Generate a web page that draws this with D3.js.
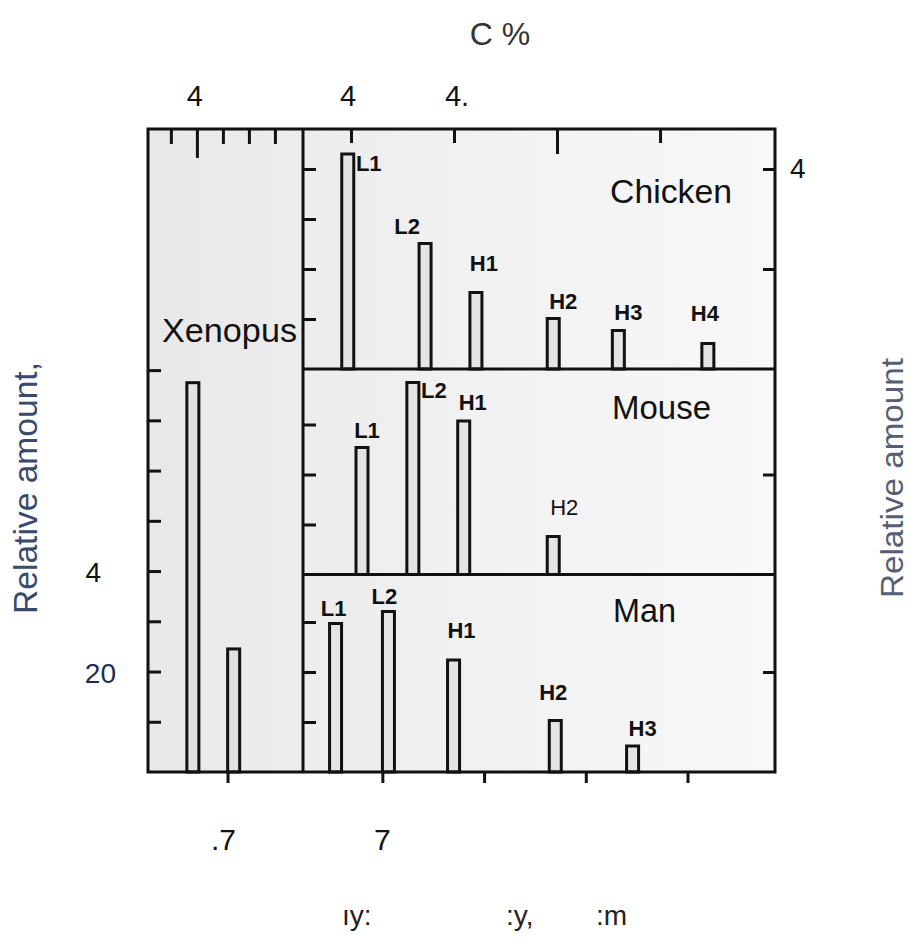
<!DOCTYPE html>
<html>
<head>
<meta charset="utf-8">
<script src="https://cdn.jsdelivr.net/npm/d3@7"></script>
<style>
body { margin: 0; background: #fff; }
text { font-family: "Liberation Sans", Arial, sans-serif; }
</style>
</head>
<body>
<script>
var w = 911;
var h = 941;

// values: buoyant density (g/cm3) and relative amount (%)
var xenopusDensity = [1.6983, 1.7003];
var xenopusAmount = [77.5, 24.5];

var chickenBands = ["L1", "L2", "H1", "H2", "H3", "H4"];
var chickenDensity = [1.6983, 1.7021, 1.7046, 1.7084, 1.7116, 1.7160];
var chickenAmount = [43, 25.1, 15.3, 10.1, 7.7, 5.1];

var mouseBands = ["L1", "L2", "H1", "H2"];
var mouseDensity = [1.6990, 1.7015, 1.7040, 1.7084];
var mouseAmount = [25.4, 38.4, 30.7, 7.6];

var manBands = ["L1", "L2", "H1", "H2", "H3"];
var manDensity = [1.6977, 1.7003, 1.7035, 1.7085, 1.7123];
var manAmount = [29.7, 32.1, 22.4, 10.3, 5.2];

// axes (labels are what survived of the scan)
var densityTicks = [1.700, 1.705, 1.710, 1.715];
var densityTickLabels = ["7", "", "", ""];
var xenDensityTicks = [1.700];
var xenDensityTickLabels = [".7"];
var gcTicksXen = [39, 40, 41, 42, 43];
var gcTickLabelsXen = ["", "4", "", "", ""];
var gcTicksRight = [40, 45, 50, 55];
var gcTickLabelsRight = ["4", "4.", "", ""];
var amountTicksXen = [10, 20, 30, 40, 50, 60, 70, 80];
var amountLabelValues = [40, 20];
var amountLabelTexts = ["4", "20"];

var pLeft = 148, pMid = 303, pRight = 775, pTop = 129, pBottom = 772;
var cut1 = 369, cut2 = 574.5;

var svg = d3.select("body").append("svg")
    .attr("width", w)
    .attr("height", h);

var defs = svg.append("defs");
var grad = defs.append("linearGradient").attr("id", "paper");
grad.append("stop").attr("offset", "0%").attr("stop-color", "#e8e8e8");
grad.append("stop").attr("offset", "45%").attr("stop-color", "#f0f0f0");
grad.append("stop").attr("offset", "100%").attr("stop-color", "#f8f8f8");

var xXen = d3.scaleLinear().domain([1.6961, 1.7037]).range([pLeft, pMid]);
var xRight = d3.scaleLinear().domain([1.6961, 1.7193]).range([pMid, pRight]);
var gcXen = d3.scaleLinear().domain([38.12, 44.08]).range([pLeft, pMid]);
var gcRight = d3.scaleLinear().domain([37.67, 60.58]).range([pMid, pRight]);
var yXen = d3.scaleLinear().domain([0, 128]).range([pBottom, pTop]);

function panelScale(y0, y1) {
    return d3.scaleLinear().domain([0, (y1 - y0) / 5]).range([y1, y0]);
}

// label nudges [dx from bar centre, dy from bar top]
var panels = [
    { name: "Chicken", bands: chickenBands, dens: chickenDensity, amt: chickenAmount,
      y: panelScale(pTop, cut1), ticks: [10, 20, 30, 40], rticks: [20, 40],
      nudge: [[21, 17], [-18, -10], [8, -22], [10, -10], [10, -11], [-3, -23]],
      bold: [1, 1, 1, 1, 1, 1], tx: 610, ty: 203, tl: 122 },
    { name: "Mouse", bands: mouseBands, dens: mouseDensity, amt: mouseAmount,
      y: panelScale(cut1, cut2), ticks: [10, 20, 30], rticks: [20],
      nudge: [[5, -10], [21, 15], [9, -11], [11, -22]],
      bold: [1, 1, 1, 0], tx: 612, ty: 419, tl: 99 },
    { name: "Man", bands: manBands, dens: manDensity, amt: manAmount,
      y: panelScale(cut2, pBottom), ticks: [10, 20, 30], rticks: [20],
      nudge: [[-2, -8], [-4, -8], [8, -22], [-2, -21], [10, -10]],
      bold: [1, 1, 1, 1, 1], tx: 613, ty: 622, tl: 63 }
];

svg.append("rect")
    .attr("x", pLeft).attr("y", pTop)
    .attr("width", pRight - pLeft).attr("height", pBottom - pTop)
    .attr("fill", "url(#paper)");

// Xenopus bars
svg.append("g").selectAll("rect")
    .data(xenopusDensity)
    .enter()
    .append("rect")
    .attr("x", function(d) { return xXen(d) - 6; })
    .attr("y", function(d, i) { return yXen(xenopusAmount[i]); })
    .attr("width", 12)
    .attr("height", function(d, i) { return pBottom - yXen(xenopusAmount[i]); })
    .attr("fill", "#e2e2e2")
    .attr("stroke", "#111")
    .attr("stroke-width", 3);

panels.forEach(function(p) {
    var g = svg.append("g");
    var y = p.y;
    var base = y(0);

    g.selectAll("rect")
        .data(p.dens)
        .enter()
        .append("rect")
        .attr("x", function(d) { return xRight(d) - 6; })
        .attr("y", function(d, i) { return y(p.amt[i]); })
        .attr("width", 12)
        .attr("height", function(d, i) { return base - y(p.amt[i]); })
        .attr("fill", "#e4e4e4")
        .attr("stroke", "#111")
        .attr("stroke-width", 3);

    g.selectAll("text.band")
        .data(p.bands)
        .enter()
        .append("text")
        .attr("class", "band")
        .text(function(d) { return d; })
        .attr("x", function(d, i) { return xRight(p.dens[i]) + p.nudge[i][0]; })
        .attr("y", function(d, i) { return y(p.amt[i]) + p.nudge[i][1]; })
        .attr("text-anchor", "middle")
        .attr("font-size", "22px")
        .attr("font-weight", function(d, i) { return p.bold[i] ? "bold" : "normal"; })
        .attr("fill", "#111");

    g.append("text")
        .text(p.name)
        .attr("x", p.tx)
        .attr("y", p.ty)
        .attr("font-size", "33px")
        .attr("textLength", p.tl)
        .attr("lengthAdjust", "spacingAndGlyphs")
        .attr("fill", "#111");

    var la = g.append("g")
        .attr("transform", "translate(" + pMid + ",0)")
        .call(d3.axisLeft(y).tickValues(p.ticks).tickSize(-13).tickFormat(""));
    var ra = g.append("g")
        .attr("transform", "translate(" + pRight + ",0)")
        .call(d3.axisRight(y).tickValues(p.rticks).tickSize(-12).tickFormat(""));
    [la, ra].forEach(function(a) {
        a.select(".domain").remove();
        a.selectAll("line").attr("stroke", "#111").attr("stroke-width", 3);
    });
});

// Xenopus left ticks
var xl = svg.append("g")
    .attr("transform", "translate(" + pLeft + ",0)")
    .call(d3.axisLeft(yXen).tickValues(amountTicksXen).tickSize(-13).tickFormat(""));
xl.select(".domain").remove();
xl.selectAll("line").attr("stroke", "#111").attr("stroke-width", 3);

// top GC ticks
var tx = svg.append("g")
    .attr("transform", "translate(0," + pTop + ")")
    .call(d3.axisTop(gcXen).tickValues(gcTicksXen).tickSize(-15).tickFormat(""));
tx.selectAll("line").attr("y2", function(d) { return d === 40 ? 29 : 15; });
var tr = svg.append("g")
    .attr("transform", "translate(0," + pTop + ")")
    .call(d3.axisTop(gcRight).tickValues(gcTicksRight).tickSize(-15).tickFormat(""));
tr.selectAll("line").attr("y2", function(d) { return d === 50 ? 25 : 14; });

// bottom density ticks
var bx = svg.append("g")
    .attr("transform", "translate(0," + pBottom + ")")
    .call(d3.axisBottom(xXen).tickValues(xenDensityTicks).tickSize(11).tickFormat(""));
var br = svg.append("g")
    .attr("transform", "translate(0," + pBottom + ")")
    .call(d3.axisBottom(xRight).tickValues(densityTicks).tickSize(11).tickFormat(""));
[tx, tr, bx, br].forEach(function(a) {
    a.select(".domain").remove();
    a.selectAll("line").attr("stroke", "#111").attr("stroke-width", 3);
});

// frame and dividers
svg.append("rect")
    .attr("x", pLeft).attr("y", pTop)
    .attr("width", pRight - pLeft).attr("height", pBottom - pTop)
    .attr("fill", "none").attr("stroke", "#111").attr("stroke-width", 3);
svg.append("line").attr("x1", pMid).attr("x2", pMid).attr("y1", pTop).attr("y2", pBottom)
    .attr("stroke", "#111").attr("stroke-width", 3);
[cut1, cut2].forEach(function(c) {
    svg.append("line").attr("x1", pMid).attr("x2", pRight).attr("y1", c).attr("y2", c)
        .attr("stroke", "#111").attr("stroke-width", 3);
});

svg.append("text")
    .text("Xenopus")
    .attr("x", 162).attr("y", 342)
    .attr("font-size", "33px")
    .attr("textLength", 135)
    .attr("lengthAdjust", "spacingAndGlyphs")
    .attr("fill", "#111");

// tick labels
svg.selectAll("text.gcx")
    .data(gcTicksXen)
    .enter().append("text").attr("class", "gcx")
    .text(function(d, i) { return gcTickLabelsXen[i]; })
    .attr("x", function(d) { return gcXen(d) - 2; })
    .attr("y", 106)
    .attr("text-anchor", "middle").attr("font-size", "29px").attr("fill", "#111");
svg.selectAll("text.gcr")
    .data(gcTicksRight)
    .enter().append("text").attr("class", "gcr")
    .text(function(d, i) { return gcTickLabelsRight[i]; })
    .attr("x", function(d, i) { return gcRight(d) + (i === 1 ? 3 : -3); })
    .attr("y", 106)
    .attr("text-anchor", "middle").attr("font-size", "29px").attr("fill", "#111");

svg.selectAll("text.dx")
    .data(xenDensityTicks)
    .enter().append("text").attr("class", "dx")
    .text(function(d, i) { return xenDensityTickLabels[i]; })
    .attr("x", function(d) { return xXen(d) - 4; })
    .attr("y", 850)
    .attr("text-anchor", "middle").attr("font-size", "30px").attr("fill", "#111");
svg.selectAll("text.dr")
    .data(densityTicks)
    .enter().append("text").attr("class", "dr")
    .text(function(d, i) { return densityTickLabels[i]; })
    .attr("x", function(d) { return xRight(d); })
    .attr("y", 850)
    .attr("text-anchor", "middle").attr("font-size", "30px").attr("fill", "#111");

svg.selectAll("text.amt")
    .data(amountLabelValues)
    .enter().append("text").attr("class", "amt")
    .text(function(d, i) { return amountLabelTexts[i]; })
    .attr("x", function(d, i) { return i === 0 ? 101 : 116; })
    .attr("y", function(d) { return yXen(d) + 11; })
    .attr("text-anchor", "end").attr("font-size", "28px")
    .attr("fill", function(d, i) { return i === 0 ? "#111" : "#1c2d55"; });

svg.append("text")
    .text("4")
    .attr("x", pRight + 15)
    .attr("y", panels[0].y(40) + 9)
    .attr("font-size", "28px").attr("fill", "#111");

// titles
svg.append("text")
    .text("C %")
    .attr("x", 500).attr("y", 45)
    .attr("text-anchor", "middle").attr("font-size", "32px").attr("fill", "#333");

svg.append("text")
    .text("Relative amount,")
    .attr("transform", "translate(37,488) rotate(-90)")
    .attr("text-anchor", "middle").attr("font-size", "33px")
    .attr("textLength", 252).attr("lengthAdjust", "spacingAndGlyphs")
    .attr("fill", "#3a4a6c");

svg.append("text")
    .text("Relative amount")
    .attr("transform", "translate(903,478) rotate(-90)")
    .attr("text-anchor", "middle").attr("font-size", "32px")
    .attr("textLength", 240).attr("lengthAdjust", "spacingAndGlyphs")
    .attr("fill", "#556075");

var bt = svg.append("text")
    .attr("y", 925).attr("font-size", "28px").attr("fill", "#222");
bt.append("tspan").attr("x", 342).text("\u0131y:");
bt.append("tspan").attr("x", 506).text(":y,");
bt.append("tspan").attr("x", 596).text(":m");
</script>
</body>
</html>
